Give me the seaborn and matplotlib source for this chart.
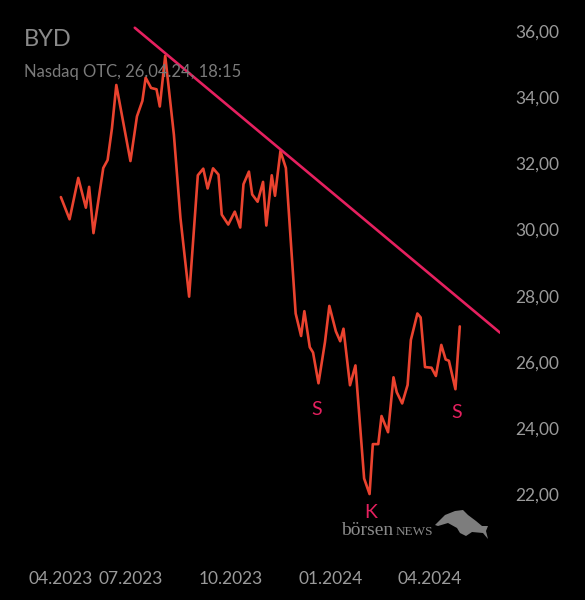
import pandas as pd
import matplotlib.pyplot as plt
import matplotlib.patches as mpatches
import seaborn as sns

# --- Data ---
dates = [
    "2023-04-28", "2023-05-06", "2023-05-14", "2023-05-21", "2023-05-24", "2023-05-28",
    "2023-06-06", "2023-06-10", "2023-06-14", "2023-06-18", "2023-07-01", "2023-07-07",
    "2023-07-12", "2023-07-15", "2023-07-20", "2023-07-25", "2023-07-28", "2023-08-02",
    "2023-08-10", "2023-08-16", "2023-08-24", "2023-09-01", "2023-09-06", "2023-09-10",
    "2023-09-15", "2023-09-20", "2023-09-23", "2023-09-29", "2023-10-05", "2023-10-10",
    "2023-10-13", "2023-10-18", "2023-10-21", "2023-10-26", "2023-10-31", "2023-11-03",
    "2023-11-08", "2023-11-11", "2023-11-16", "2023-11-21", "2023-11-30", "2023-12-05",
    "2023-12-08", "2023-12-13", "2023-12-16", "2023-12-21", "2023-12-27", "2023-12-31",
    "2024-01-06", "2024-01-10", "2024-01-13", "2024-01-19", "2024-01-24", "2024-02-01",
    "2024-02-06", "2024-02-09", "2024-02-14", "2024-02-17", "2024-02-23", "2024-02-28",
    "2024-03-02", "2024-03-07", "2024-03-12", "2024-03-15", "2024-03-21", "2024-03-24",
    "2024-03-28", "2024-04-03", "2024-04-07", "2024-04-12", "2024-04-16", "2024-04-19",
    "2024-04-25", "2024-04-29",
]
prices = [
    30.98, 30.31, 31.56, 30.66, 31.29, 29.89,
    31.86, 32.10, 33.06, 34.37, 32.07, 33.42,
    33.89, 34.59, 34.28, 34.24, 33.72, 35.25,
    32.86, 30.35, 27.97, 31.64, 31.84, 31.24,
    31.85, 31.66, 30.45, 30.15, 30.54, 30.06,
    31.37, 31.75, 31.06, 30.84, 31.44, 30.12,
    31.64, 31.02, 32.37, 31.86, 27.46, 26.78,
    27.53, 26.44, 26.28, 25.35, 26.60, 27.69,
    26.92, 26.62, 27.00, 25.29, 25.89, 22.47,
    22.00, 23.51, 23.51, 24.36, 23.87, 25.53,
    25.08, 24.74, 25.30, 26.66, 27.46, 27.34,
    25.84, 25.82, 25.57, 26.51, 26.07, 26.03,
    25.17, 27.07,
]

# resistance line (start / end)
trend_dates = ["2023-07-05", "2024-06-05"]
trend_prices = [36.10, 26.88]

# S-K-S pattern markers
pattern_labels = ["S", "K", "S"]
pattern_dates = ["2023-12-19", "2024-02-07", "2024-04-26"]
pattern_prices = [24.57, 21.45, 24.48]

tick_dates = ["2023-04-28", "2023-07-01", "2023-10-01", "2024-01-01", "2024-04-01"]
tick_labels = ["04.2023", "07.2023", "10.2023", "01.2024", "04.2024"]
y_ticks = [22, 24, 26, 28, 30, 32, 34, 36]

LINE_COLOR = "#ea432f"
TREND_COLOR = "#e5205f"
TEXT_GRAY = "#9a9a9a"
LOGO_GRAY = "#8a8a8a"

df = pd.DataFrame({"date": pd.to_datetime(dates), "price": prices})
trend = pd.DataFrame({"date": pd.to_datetime(trend_dates), "price": trend_prices})

sns.set_theme(style="dark", rc={"axes.facecolor": "black", "figure.facecolor": "black"})
plt.rcParams["font.family"] = ["Lato", "DejaVu Sans"]

W, H = 585, 600
fig = plt.figure(figsize=(W / 100, H / 100), dpi=100)
ax = fig.add_axes([0, 0.0917, 500 / W, 0.9083])
ax.set_facecolor("black")

sns.lineplot(data=df, x="date", y="price", ax=ax, color=LINE_COLOR, linewidth=1.9)
sns.lineplot(data=trend, x="date", y="price", ax=ax, color=TREND_COLOR, linewidth=1.9)

ax.set_xlim(pd.Timestamp("2023-03-03"), pd.Timestamp("2024-06-05"))
ax.set_ylim(20.46, 36.94)

for lab, d, p in zip(pattern_labels, pattern_dates, pattern_prices):
    ax.text(pd.Timestamp(d), p, lab, color=TREND_COLOR, fontsize=14,
            ha="center", va="center")

# axes styling
for s in ax.spines.values():
    s.set_visible(False)
ax.grid(False)
ax.set_xlabel("")
ax.set_ylabel("")

ax.yaxis.tick_right()
ax.set_yticks(y_ticks)
ax.set_yticklabels([f"{v:.2f}".replace(".", ",") for v in y_ticks])
ax.tick_params(axis="y", length=0, pad=11, labelsize=12.5, labelcolor=TEXT_GRAY)

ax.set_xticks(pd.to_datetime(tick_dates))
ax.set_xticklabels(tick_labels)
ax.tick_params(axis="x", length=0, pad=19, labelsize=12.5, labelcolor=TEXT_GRAY)

# title block
fig.text(24 / W, 1 - 40 / H, "BYD", color="#8a8a8a", fontsize=17, va="center", ha="left")
fig.text(24 / W, 1 - 72 / H, "Nasdaq OTC, 26.04.24, 18:15", color="#7a7a7a",
         fontsize=12, va="center", ha="left")

# logo: wordmark + rough bull silhouette
fig.text(341 / W, 1 - 535 / H, "börsen", color=LOGO_GRAY, fontsize=14,
         family="Liberation Serif", va="baseline", ha="left")
fig.text(396 / W, 1 - 535 / H, "NEWS", color=LOGO_GRAY, fontsize=9.5,
         family="Liberation Serif", va="baseline", ha="left")
bull_px = [(435, 525), (445, 515), (455, 511), (463, 510), (468, 515), (476, 521),
           (482, 526), (488, 526), (486, 531), (488, 539), (483, 533), (472, 532),
           (466, 536), (460, 533), (457, 528), (448, 523), (438, 526)]
bull = mpatches.Polygon([(x / W, 1 - y / H) for x, y in bull_px], closed=True,
                        facecolor="#7d7d7d", edgecolor="none", transform=fig.transFigure)
fig.patches.append(bull)

fig.savefig("out.png", dpi=100, facecolor="black")
